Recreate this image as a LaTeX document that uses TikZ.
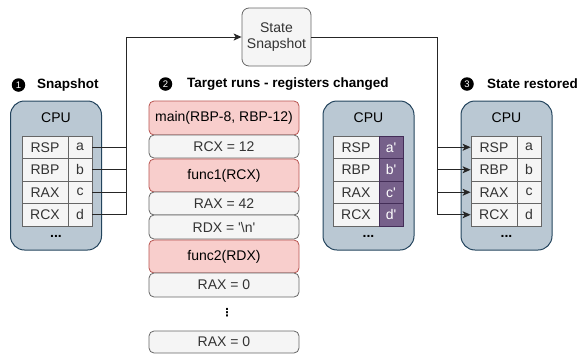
\documentclass[tikz,border=0pt]{standalone}
\usepackage{fontspec}
\setmainfont{Liberation Sans}
\newfontfamily\symfont{DejaVu Sans}
\usetikzlibrary{arrows.meta}
\definecolor{cpufill}{HTML}{BAC8D3}
\definecolor{cpuline}{HTML}{23445D}
\definecolor{grayfill}{HTML}{F5F5F5}
\definecolor{grayline}{HTML}{666666}
\definecolor{textgray}{HTML}{333333}
\definecolor{redfill}{HTML}{F8CECC}
\definecolor{redline}{HTML}{B85450}
\definecolor{purplefill}{HTML}{76608A}
\definecolor{purpleline}{HTML}{432D57}
\begin{document}
\begin{tikzpicture}[x=1pt,y=-1pt,
  txt/.style={font=\fontsize{14}{16}\selectfont},
  cpu/.style={draw=cpuline, fill=cpufill, rounded corners=14pt, line width=1pt, minimum width=91pt, minimum height=149pt, inner sep=0pt},
  reg/.style={draw=grayline, fill=grayfill, line width=0.8pt, minimum height=22.5pt, inner sep=0pt, txt, text=textgray},
  regn/.style={reg, minimum width=46pt},
  regv/.style={reg, minimum width=24pt},
  regc/.style={regv, fill=purplefill, draw=purpleline, text=white},
  stepred/.style={draw=redline, fill=redfill, rounded corners=5pt, line width=0.8pt, minimum width=150pt, inner sep=0pt, txt, text=black},
  stepgray/.style={draw=grayline, fill=grayfill, rounded corners=5pt, line width=0.8pt, minimum width=150pt, inner sep=0pt, txt, text=textgray},
  num/.style={circle, fill=black, text=white, inner sep=0pt, minimum size=13.5pt, font=\fontsize{9.5}{9.5}\selectfont},
  head/.style={anchor=west, inner sep=0pt, font=\fontsize{13.5}{16}\selectfont\bfseries},
  conn/.style={line width=1pt, draw=black!85},
  tip/.style={-{Stealth[length=8pt,width=7pt,inset=2pt]}}
]
\useasboundingbox (0,0) rectangle (579,354);

% CPU boxes
\node[cpu] (cpu1) at (56,175.5) {};
\node[cpu] (cpu2) at (368.5,175.5) {};
\node[cpu] (cpu3) at (506.5,175.5) {};
\node[txt] (cl1) at (56,118) {CPU};
\node[txt] (cl2) at (368.5,118) {CPU};
\node[txt] (cl3) at (506.5,118) {CPU};
\node[txt] (dt1) at (56,236) {\textbf{...}};
\node[txt] (dt2) at (368.5,236) {\textbf{...}};
\node[txt] (dt3) at (506.5,236) {\textbf{...}};

% registers
\foreach \i/\r/\v/\y in {1/RSP/a/147.25, 2/RBP/b/169.75, 3/RAX/c/192.25, 4/RCX/d/214.75} {
  \node[regn] (n1\i) at (45,\y) {\r};
  \node[regv] (v1\i) at (80,\y) {\v};
  \node[regn] (n2\i) at (356,\y) {\r};
  \node[regc] (v2\i) at (391,\y) {\v\textquotesingle};
  \node[regn] (n3\i) at (494,\y) {\r};
  \node[regv] (v3\i) at (529,\y) {\v};
}

% headings
\node[num] (h1n) at (18.5,85) {1};
\node[head] (h1) at (37,85) {Snapshot};
\node[num] (h2n) at (165.5,84) {2};
\node[head] (h2) at (187,84) {Target runs - registers changed};
\node[num] (h3n) at (467,84) {3};
\node[head] (h3) at (487,84) {State restored};

% state snapshot
\node[draw=grayline, fill=grayfill, rounded corners=7pt, line width=0.8pt, minimum width=69pt, minimum height=58pt, align=center, txt, text=textgray, inner sep=0pt] (snap) at (276.5,37) {State\\Snapshot};

% middle stack
\node[stepred, minimum height=34pt] (s1) at (224,118) {main(RBP-8, RBP-12)};
\node[stepgray, minimum height=23pt] (s2) at (224,146.5) {RCX = 12};
\node[stepred, minimum height=33pt] (s3) at (224,175.5) {func1(RCX)};
\node[stepgray, minimum height=23pt] (s4) at (224,203.5) {RAX = 42};
\node[stepgray, minimum height=24pt] (s5) at (224,227) {RDX = \textquotesingle\textbackslash n\textquotesingle};
\node[stepred, minimum height=33pt] (s6) at (224,256.5) {func2(RDX)};
\node[stepgray, minimum height=24pt] (s7) at (224,285) {RAX = 0};
\node[inner sep=0pt, font=\symfont\fontsize{11}{11}\selectfont\bfseries] (s8) at (227,313) {⋮};
\node[stepgray, minimum height=22pt] (s9) at (224,342) {RAX = 0};

% connectors
\coordinate (jl) at (126,0);
\coordinate (jr) at (437,0);
\draw[conn,tip] (v14.east) -| (jl |- snap.west) -- (snap.west);
\foreach \i in {1,2,3} { \draw[conn] (v1\i.east) -- (v1\i.east -| jl); }
\draw[conn,tip] (snap.east) -| (jr |- n34.west) -- (n34.west);
\foreach \i in {1,2,3} { \draw[conn,tip] (n3\i.west -| jr) -- (n3\i.west); }
\end{tikzpicture}
\end{document}
